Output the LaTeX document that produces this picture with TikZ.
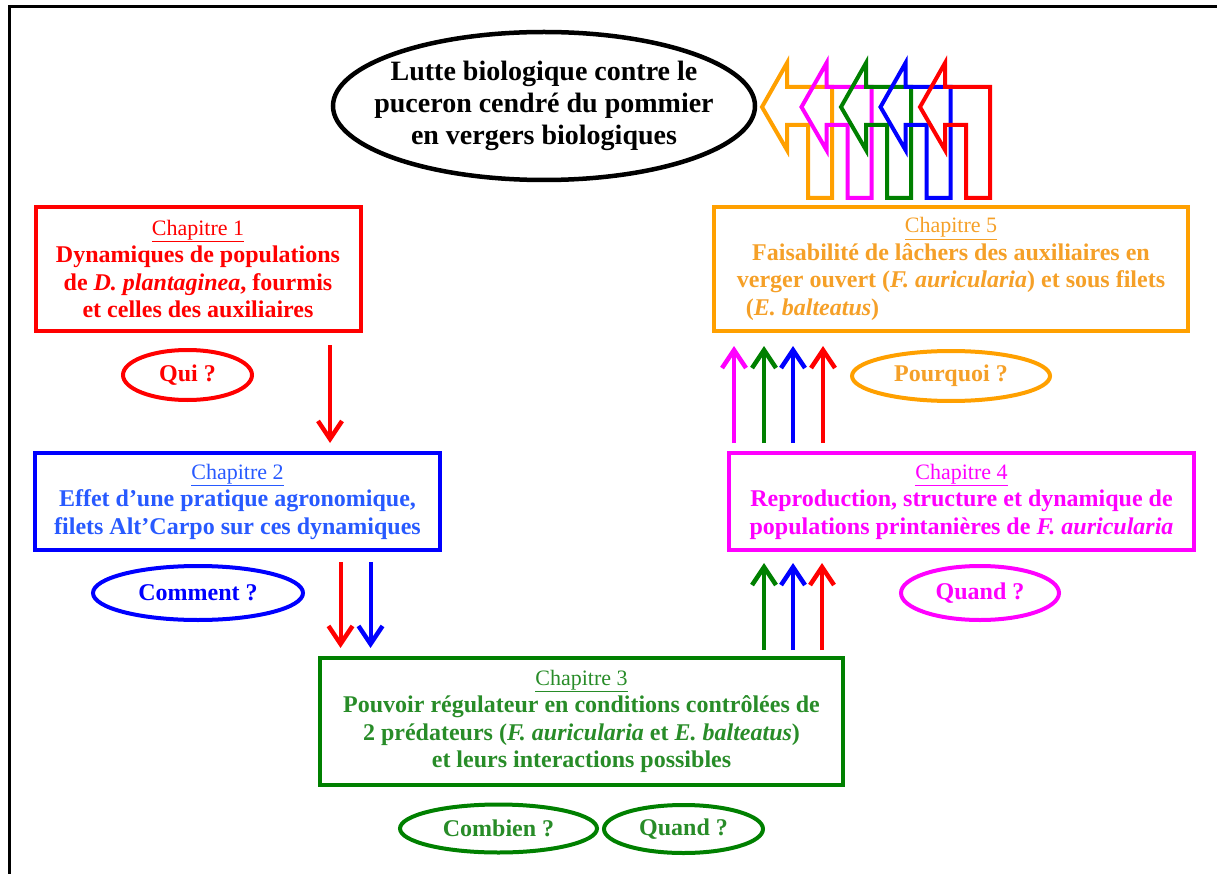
\documentclass[tikz,border=0pt]{standalone}
\usepackage{fontspec}
\setmainfont{Liberation Serif}
\usetikzlibrary{shapes.geometric,arrows.meta}

\definecolor{rouge}{RGB}{255,0,0}
\definecolor{bleu}{RGB}{0,0,255}
\definecolor{bleutexte}{RGB}{40,90,255}
\definecolor{vert}{RGB}{0,128,0}
\definecolor{verttexte}{RGB}{40,140,40}
\definecolor{rose}{RGB}{255,0,255}
\definecolor{orangef}{RGB}{255,160,0}
\definecolor{orangetexte}{RGB}{245,160,40}

\newcommand{\chapitre}[1]{{\fontsize{22}{27.5}\selectfont\mdseries\underline{Chapitre #1}}}

\begin{document}
\begin{tikzpicture}[x=1pt,y=-1pt,>={Straight Barb[length=18pt,width=24pt,line width=4.5pt]},
    chapbox/.style={draw,line width=4pt,inner sep=0pt,align=center,font=\fontsize{24}{27.5}\selectfont\bfseries},
    question/.style={draw,ellipse,line width=4pt,inner sep=0pt,font=\fontsize{24}{28}\selectfont\bfseries},
    flow/.style={->,line width=4pt},
    bent/.style={line width=4pt,line join=miter}]
    \useasboundingbox (0,0) rectangle (1217,874);
    \draw[line width=2.5pt] (9.5,874) -- (9.5,6.5) -- (1217,6.5);

    \node[draw,ellipse,line width=4.5pt,inner xsep=-21pt,inner ysep=0pt,minimum width=422pt,minimum height=148pt,align=center,font=\fontsize{28}{32}\selectfont\bfseries] (titre) at (544,106) {Lutte biologique contre le\\puceron cendré du pommier\\en vergers biologiques};

    \node[chapbox,rouge,text=rouge,minimum width=325pt,minimum height=124pt] (ch1) at (198,269) {\chapitre{1}\\Dynamiques de populations\\de \textit{D. plantaginea}, fourmis\\et celles des auxiliaires};
    \node[chapbox,bleu,text=bleutexte,minimum width=405pt,minimum height=97pt] (ch2) at (237.5,501.5) {\chapitre{2}\\Effet d’une pratique agronomique,\\filets Alt’Carpo sur ces dynamiques};
    \node[chapbox,vert,text=verttexte,minimum width=523pt,minimum height=127pt] (ch3) at (581.5,721.5) {\chapitre{3}\\Pouvoir régulateur en conditions contrôlées de\\2 prédateurs (\textit{F. auricularia} et \textit{E. balteatus})\\et leurs interactions possibles};
    \node[chapbox,rose,text=rose,minimum width=465pt,minimum height=97pt] (ch4) at (961.5,501.5) {\chapitre{4}\\Reproduction, structure et dynamique de\\populations printanières de \textit{F. auricularia}};
    \node[chapbox,orangef,text=orangetexte,minimum width=474pt,minimum height=124pt] (ch5) at (951,269) {\chapitre{5}\\Faisabilité de lâchers des auxiliaires en\\verger ouvert (\textit{F. auricularia}) et sous filets\\(\textit{E. balteatus})\hspace*{277pt}};

    \node[question,rouge,minimum width=129pt,minimum height=50pt] (qui) at (187.5,375) {Qui ?};
    \node[question,bleu,minimum width=210pt,minimum height=54pt] (comment) at (198,593) {Comment ?};
    \node[question,vert,text=verttexte,minimum width=197pt,minimum height=48pt] (combien) at (498.5,828.5) {Combien ?};
    \node[question,vert,text=verttexte,minimum width=159pt,minimum height=48pt] (quandA) at (683.5,829) {Quand ?};
    \node[question,rose,minimum width=158pt,minimum height=54pt] (quandB) at (980,593) {Quand ?};
    \node[question,orangef,text=orangetexte,minimum width=198pt,minimum height=50pt] (pourquoi) at (951,376) {Pourquoi ?};

    \path[flow,shorten <=12pt,shorten >=8pt] ([xshift=132pt]ch1.south) edge[rouge] ([xshift=92.5pt]ch2.north);
    \path[flow,shorten <=10pt,shorten >=8pt]
        ([xshift=103pt]ch2.south) edge[rouge] ([xshift=-241pt]ch3.north)
        ([xshift=133pt]ch2.south) edge[bleu] ([xshift=-211pt]ch3.north);
    \path[flow,shorten <=6pt,shorten >=11pt]
        ([xshift=182.5pt]ch3.north) edge[vert] ([xshift=-197.5pt]ch4.south)
        ([xshift=211.5pt]ch3.north) edge[bleu] ([xshift=-168.5pt]ch4.south)
        ([xshift=240.5pt]ch3.north) edge[rouge] ([xshift=-139.5pt]ch4.south);
    \path[flow,shorten <=8pt,shorten >=13pt]
        ([xshift=-227.5pt]ch4.north) edge[rose] ([xshift=-217pt]ch5.south)
        ([xshift=-197.5pt]ch4.north) edge[vert] ([xshift=-187pt]ch5.south)
        ([xshift=-168.5pt]ch4.north) edge[bleu] ([xshift=-158pt]ch5.south)
        ([xshift=-138.5pt]ch4.north) edge[rouge] ([xshift=-128pt]ch5.south);

    % bent arrows back to the title
    \draw[bent,orangef] (808,198) -- (832,198) -- (832,87) -- (787,87) -- (787,63) -- (762,107) -- (787,150) -- (787,125) -- (808,125) -- cycle;
    \draw[bent,rose,xshift=39.5pt] (808,198) -- (832,198) -- (832,87) -- (787,87) -- (787,63) -- (762,107) -- (787,150) -- (787,125) -- (808,125) -- cycle;
    \draw[bent,vert,xshift=79pt] (808,198) -- (832,198) -- (832,87) -- (787,87) -- (787,63) -- (762,107) -- (787,150) -- (787,125) -- (808,125) -- cycle;
    \draw[bent,bleu,xshift=118.5pt] (808,198) -- (832,198) -- (832,87) -- (787,87) -- (787,63) -- (762,107) -- (787,150) -- (787,125) -- (808,125) -- cycle;
    \draw[bent,rouge,xshift=158pt] (808,198) -- (832,198) -- (832,87) -- (787,87) -- (787,63) -- (762,107) -- (787,150) -- (787,125) -- (808,125) -- cycle;
\end{tikzpicture}
\end{document}
